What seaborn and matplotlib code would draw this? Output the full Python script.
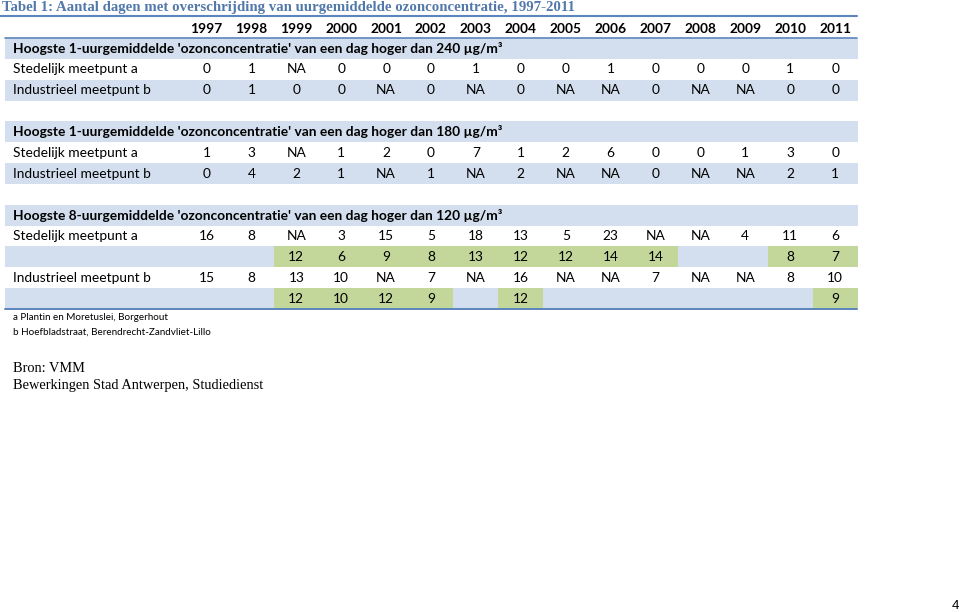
import numpy as np
import pandas as pd
import matplotlib
matplotlib.use("Agg")
import matplotlib.pyplot as plt
from matplotlib.colors import ListedColormap
import seaborn as sns

# ---------------- data ----------------
years = [1997, 1998, 1999, 2000, 2001, 2002, 2003, 2004, 2005, 2006, 2007, 2008, 2009, 2010, 2011]
title = "Tabel 1: Aantal dagen met overschrijding van uurgemiddelde ozonconcentratie, 1997-2011"
sections = [
    "Hoogste 1-uurgemiddelde 'ozonconcentratie' van een dag hoger dan 240 \u00b5g/m\u00b3",
    "Hoogste 1-uurgemiddelde 'ozonconcentratie' van een dag hoger dan 180 \u00b5g/m\u00b3",
    "Hoogste 8-uurgemiddelde 'ozonconcentratie' van een dag hoger dan 120 \u00b5g/m\u00b3",
]
label_a = "Stedelijk meetpunt a"
label_b = "Industrieel meetpunt b"
s240_a = ['0', '1', 'NA', '0', '0', '0', '1', '0', '0', '1', '0', '0', '0', '1', '0']
s240_b = ['0', '1', '0', '0', 'NA', '0', 'NA', '0', 'NA', 'NA', '0', 'NA', 'NA', '0', '0']
s180_a = ['1', '3', 'NA', '1', '2', '0', '7', '1', '2', '6', '0', '0', '1', '3', '0']
s180_b = ['0', '4', '2', '1', 'NA', '1', 'NA', '2', 'NA', 'NA', '0', 'NA', 'NA', '2', '1']
s120_a = ['16', '8', 'NA', '3', '15', '5', '18', '13', '5', '23', 'NA', 'NA', '4', '11', '6']
s120_a2 = ['', '', '12', '6', '9', '8', '13', '12', '12', '14', '14', '', '', '8', '7']
s120_b = ['15', '8', '13', '10', 'NA', '7', 'NA', '16', 'NA', 'NA', '7', 'NA', 'NA', '8', '10']
s120_b2 = ['', '', '12', '10', '12', '9', '', '12', '', '', '', '', '', '', '9']
footnotes = ["a Plantin en Moretuslei, Borgerhout", "b Hoefbladstraat, Berendrecht-Zandvliet-Lillo"]
source = ["Bron: VMM", "Bewerkingen Stad Antwerpen, Studiedienst"]
page_number = "4"

# ---------------- style ----------------
sns.set_theme(style="white")
plt.rcParams['font.family'] = ['Lato', 'DejaVu Sans']

WHITE, BLUE, GREEN = "#FFFFFF", "#D3DFEE", "#C4D79B"
LINE = "#5B86BD"
TITLE_C = "#5279AA"
SERIF = ['Liberation Serif']

W, H = 959, 612
fig = plt.figure(figsize=(W / 100, H / 100), dpi=100)
fig.patch.set_facecolor("white")
renderer = fig.canvas.get_renderer()


def fit(text, target, **kw):
    t = fig.text(0, 0, text, fontsize=10, **kw)
    w = t.get_window_extent(renderer).width
    t.remove()
    return 10 * target / w


body_fs = fit(label_a, 125, family=['Lato'])
bold_fs = fit(sections[1], 489, family=['Lato'], fontweight='bold')
title_fs = fit(title, 575, family=SERIF, fontweight='bold')
foot_fs = fit(footnotes[1], 198, family=['Lato'])
src_fs = fit(source[1], 250, family=SERIF)

# table geometry (pixels)
table_top, table_bot = 38.0, 309.0
n_rows = 13
row_h = (table_bot - table_top) / n_rows
col_w = 44.9
grid_left = 184.05
grid_right = grid_left + col_w * len(years)
band_left = 5.0

rows = [
    (sections[0], 'head', [''] * 15, 1),
    (label_a, 'row', s240_a, 0),
    (label_b, 'row', s240_b, 1),
    ('', 'gap', [''] * 15, 0),
    (sections[1], 'head', [''] * 15, 1),
    (label_a, 'row', s180_a, 0),
    (label_b, 'row', s180_b, 1),
    ('', 'gap', [''] * 15, 0),
    (sections[2], 'head', [''] * 15, 1),
    (label_a, 'row', s120_a, 0),
    ('', 'sub', s120_a2, 1),
    (label_b, 'row', s120_b, 0),
    ('', 'sub', s120_b2, 1),
]

codes = np.zeros((n_rows, len(years)))
annot = np.empty((n_rows, len(years)), dtype=object)
for i, (lab, kind, vals, base) in enumerate(rows):
    for j, v in enumerate(vals):
        annot[i, j] = v
        if kind == 'sub' and v != '':
            codes[i, j] = 2
        else:
            codes[i, j] = base

df_codes = pd.DataFrame(codes, columns=years)

ax_h = fig.add_axes([grid_left / W, 1 - table_bot / H, (grid_right - grid_left) / W,
                     (table_bot - table_top) / H])
ax_h.set_zorder(0)
sns.heatmap(df_codes, ax=ax_h, cmap=ListedColormap([WHITE, BLUE, GREEN]), vmin=-0.5, vmax=2.5,
            cbar=False, annot=annot, fmt='', linewidths=0,
            annot_kws=dict(fontsize=body_fs, color='black', family=['Lato']),
            xticklabels=[str(y) for y in years], yticklabels=False)
ax_h.tick_params(axis='x', top=True, labeltop=True, bottom=False, labelbottom=False,
                 length=0, pad=2)
for lbl in ax_h.get_xticklabels():
    lbl.set_fontweight('bold')
    lbl.set_fontsize(bold_fs)
    lbl.set_color('black')
    lbl.set_rotation(0)
ax_h.set_xlabel('')
ax_h.set_ylabel('')
for s in ax_h.spines.values():
    s.set_visible(False)

ax = fig.add_axes([0, 0, 1, 1])
ax.set_zorder(1)
ax.patch.set_alpha(0)
ax.set_xlim(0, W)
ax.set_ylim(H, 0)
ax.axis('off')

for i, (lab, kind, vals, base) in enumerate(rows):
    y0 = table_top + i * row_h
    yc = y0 + row_h / 2
    if base == 1:
        ax.add_patch(plt.Rectangle((band_left, y0), grid_left - band_left, row_h,
                                   facecolor=BLUE, edgecolor='none', zorder=1))
    if kind == 'head':
        ax.text(13, yc, lab, fontsize=bold_fs, fontweight='bold', va='center', ha='left',
                color='black', zorder=5)
    elif lab:
        ax.text(13, yc, lab, fontsize=body_fs, va='center', ha='left', color='black', zorder=5)

ax.plot([0, grid_right - 1], [16, 16], color=LINE, lw=1.5, zorder=6)
ax.plot([band_left, grid_right - 1], [table_top, table_top], color=LINE, lw=1.2, zorder=6)
ax.plot([band_left, grid_right - 1], [table_bot, table_bot], color=LINE, lw=1.4, zorder=6)

ax.text(2, 7, title, fontsize=title_fs, fontweight='bold', color=TITLE_C,
        family=SERIF, va='center', ha='left')

ax.text(13, 317, footnotes[0], fontsize=foot_fs, va='center', ha='left', color='black')
ax.text(13, 332, footnotes[1], fontsize=foot_fs, va='center', ha='left', color='black')

ax.text(13, 368, source[0], fontsize=src_fs, family=SERIF, va='center', ha='left', color='black')
ax.text(13, 386, source[1], fontsize=src_fs, family=SERIF, va='center', ha='left', color='black')

ax.text(955, 606, page_number, fontsize=9.5, family=['Liberation Sans'], va='center',
        ha='center', color='black')

fig.savefig("out.png", dpi=100, facecolor='white')
